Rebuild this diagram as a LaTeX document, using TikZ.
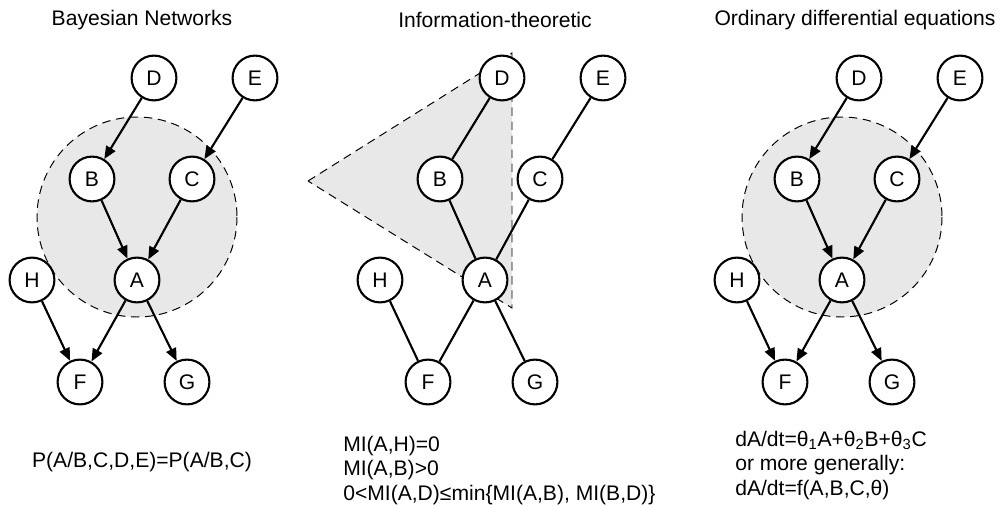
\documentclass[tikz,border=0pt]{standalone}
\usepackage{fontspec}
\setmainfont{Liberation Sans}
\usetikzlibrary{arrows.meta}
\newcommand\netnodes[1]{%
  \node[vnode] (#1D) at (154,78) {D};
  \node[vnode] (#1E) at (255,78) {E};
  \node[vnode] (#1B) at (92,179) {B};
  \node[vnode] (#1C) at (192,179) {C};
  \node[vnode] (#1A) at (137,280) {A};
  \node[vnode] (#1H) at (32,280) {H};
  \node[vnode] (#1F) at (80,382) {F};
  \node[vnode] (#1G) at (187,382) {G};
}
\newcommand\netedges[2]{%
  \draw[#2] (#1D) -- (#1B);
  \draw[#2] (#1E) -- (#1C);
  \draw[#2] (#1B) -- (#1A);
  \draw[#2] (#1C) -- (#1A);
  \draw[#2] (#1H) -- (#1F);
  \draw[#2] (#1A) -- (#1F);
  \draw[#2] (#1A) -- (#1G);
}
\begin{document}
\begin{tikzpicture}[x=0.025cm,y=-0.025cm,
  vnode/.style={circle,draw,line width=1.5pt,fill=white,minimum size=1.12cm,inner sep=0pt,font=\fontsize{15}{17}\selectfont},
  arr/.style={line width=1.5pt,-{Triangle[length=9pt,width=7.5pt]}},
  lin/.style={line width=1.5pt},
  region/.style={fill=black!9,draw,dash pattern=on 6pt off 4pt,line width=0.7pt},
  title/.style={font=\fontsize{15}{17}\selectfont,inner sep=0pt},
  txt/.style={font=\fontsize{15}{17.5}\selectfont,inner sep=0pt,align=left,anchor=north west},
]
\useasboundingbox (0,0) rectangle (1000,505);
% titles
\node[title] (t1) at (142,20) {Bayesian Networks};
\node[title] (t2) at (495,20) {Information-theoretic};
\node[title] (t3) at (855,20) {Ordinary differential equations};
% panel 1
\path[region] (137,217) circle[radius=100];
\netnodes{a}
\netedges{a}{arr}
% panel 2
\path[region] (308,181) -- (512,53) -- (512,308) -- cycle;
\begin{scope}[shift={(348,0)}]
\netnodes{b}
\netedges{b}{lin}
\end{scope}
% panel 3
\begin{scope}[shift={(705,0)}]
\path[region] (137,217) circle[radius=100];
\netnodes{c}
\netedges{c}{arr}
\end{scope}
% formulas
\node[txt,anchor=center] (f1) at (142,462) {P(A/B,C,D,E)=P(A/B,C)};
\node[txt] (f2) at (343,435.5) {MI(A,H)=0\\MI(A,B)>0\\0<MI(A,D)≤min\{MI(A,B), MI(B,D)\}};
\node[txt] (f3) at (735,430.5) {dA/dt=θ\textsubscript{1}A+θ\textsubscript{2}B+θ\textsubscript{3}C\\or more generally:\\dA/dt=f(A,B,C,θ)};
\end{tikzpicture}
\end{document}
